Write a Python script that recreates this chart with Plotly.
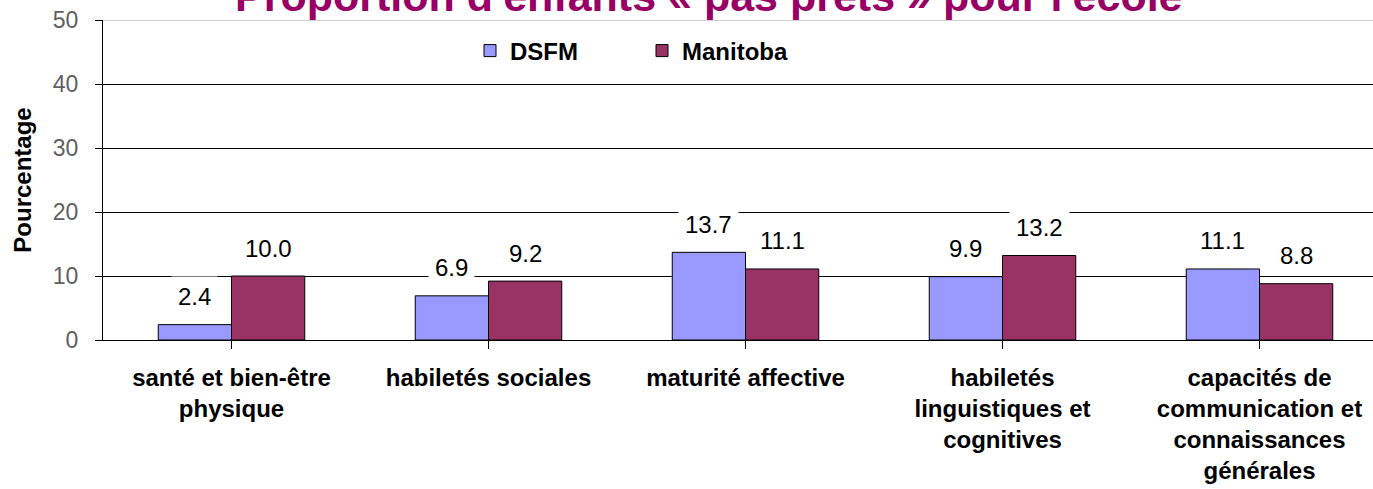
import plotly.graph_objects as go

categories = [
    "santé et bien-être<br>physique",
    "habiletés sociales",
    "maturité affective",
    "habiletés<br>linguistiques et<br>cognitives",
    "capacités de<br>communication et<br>connaissances<br>générales",
]
series_names = ["DSFM", "Manitoba"]
dsfm = [2.4, 6.9, 13.7, 9.9, 11.1]
manitoba = [10.0, 9.2, 11.1, 13.2, 8.8]
y_ticks = [0, 10, 20, 30, 40, 50]
title_text = "Proportion d'enfants « pas prêts » pour l'école"
y_title = "Pourcentage"

FONT = "Arial, Liberation Sans, sans-serif"
colors = ["#9999FF", "#993366"]
W, H = 1373, 489
ML, MR, MT, MB = 103, 0, 20, 149
cat_px = 257.0
plot_w = W - ML - MR
plot_h = H - MT - MB
x_end = -0.5 + plot_w / cat_px

fig = go.Figure()
for name, vals, col in zip(series_names, [dsfm, manitoba], colors):
    fig.add_trace(go.Bar(
        name=name, x=list(range(len(categories))), y=vals,
        marker=dict(color=col, line=dict(color="black", width=1)),
    ))

bargap = 0.43
half = (1 - bargap) / 4
annotations = []
for k, vals in enumerate([dsfm, manitoba]):
    off = -half if k == 0 else half
    for i, v in enumerate(vals):
        annotations.append(dict(
            x=i + off, y=v, xref="x", yref="y", text=f"{v:.1f}",
            showarrow=False, yanchor="middle", yshift=28,
            font=dict(family=FONT, size=24, color="black"),
            bgcolor="white", borderpad=6,
        ))

def py(px):
    """page pixel y -> paper fraction"""
    return (plot_h - (px - MT)) / plot_h

def px_x(px):
    return (px - ML) / plot_w

annotations.append(dict(
    x=px_x(709), y=py(-4), xref="paper", yref="paper",
    text=f"<b>{title_text}</b>", showarrow=False, xanchor="center", yanchor="middle",
    font=dict(family=FONT, size=43, color="#990066"),
))

shapes = [dict(type="line", xref="paper", yref="y", x0=0, x1=1, y0=y_ticks[-1], y1=y_ticks[-1],
               line=dict(color="#a0a0a0", width=1), layer="above")]

fig.update_layout(
    width=W, height=H,
    margin=dict(l=ML, r=MR, t=MT, b=MB, pad=0, autoexpand=False),
    paper_bgcolor="white", plot_bgcolor="white",
    barmode="group", bargap=bargap, bargroupgap=0,
    font=dict(family=FONT, size=24, color="black"),
    showlegend=True,
    legend=dict(
        orientation="h", x=px_x(470), xanchor="left",
        y=py(51), yanchor="middle",
        font=dict(family=FONT, size=24, color="black", weight="bold"),
        entrywidth=127, entrywidthmode="pixels",
        bgcolor="rgba(0,0,0,0)",
    ),
    annotations=annotations,
    shapes=shapes,
    xaxis=dict(
        tickmode="array", tickvals=list(range(len(categories))), ticktext=[f"<b>{c}</b>" for c in categories],
        range=[-0.5, x_end], tickson="boundaries",
        ticks="outside", ticklen=8, tickcolor="black", tickwidth=1,
        showline=True, linecolor="black", linewidth=1,
        showgrid=False, zeroline=False, automargin=False,
        tickfont=dict(family=FONT, size=24, color="black"),
        ticklabelstandoff=8,
        fixedrange=True,
    ),
    yaxis=dict(
        range=[0, 50], tickvals=y_ticks, ticks="outside", ticklen=7, tickcolor="black",
        showline=True, linecolor="black", linewidth=1,
        showgrid=True, gridcolor="black", gridwidth=1, zeroline=False, automargin=False,
        tickfont=dict(family=FONT, size=23, color="#606060"),
        ticklabelstandoff=12,
        title=dict(text=f"<b>{y_title}</b>", font=dict(family=FONT, size=24, color="black"), standoff=14),
        fixedrange=True,
    ),
)

fig.write_html(
    "out.html",
    config={"displayModeBar": False},
    post_script="document.body.style.margin='0';document.body.style.overflow='hidden';",
)
